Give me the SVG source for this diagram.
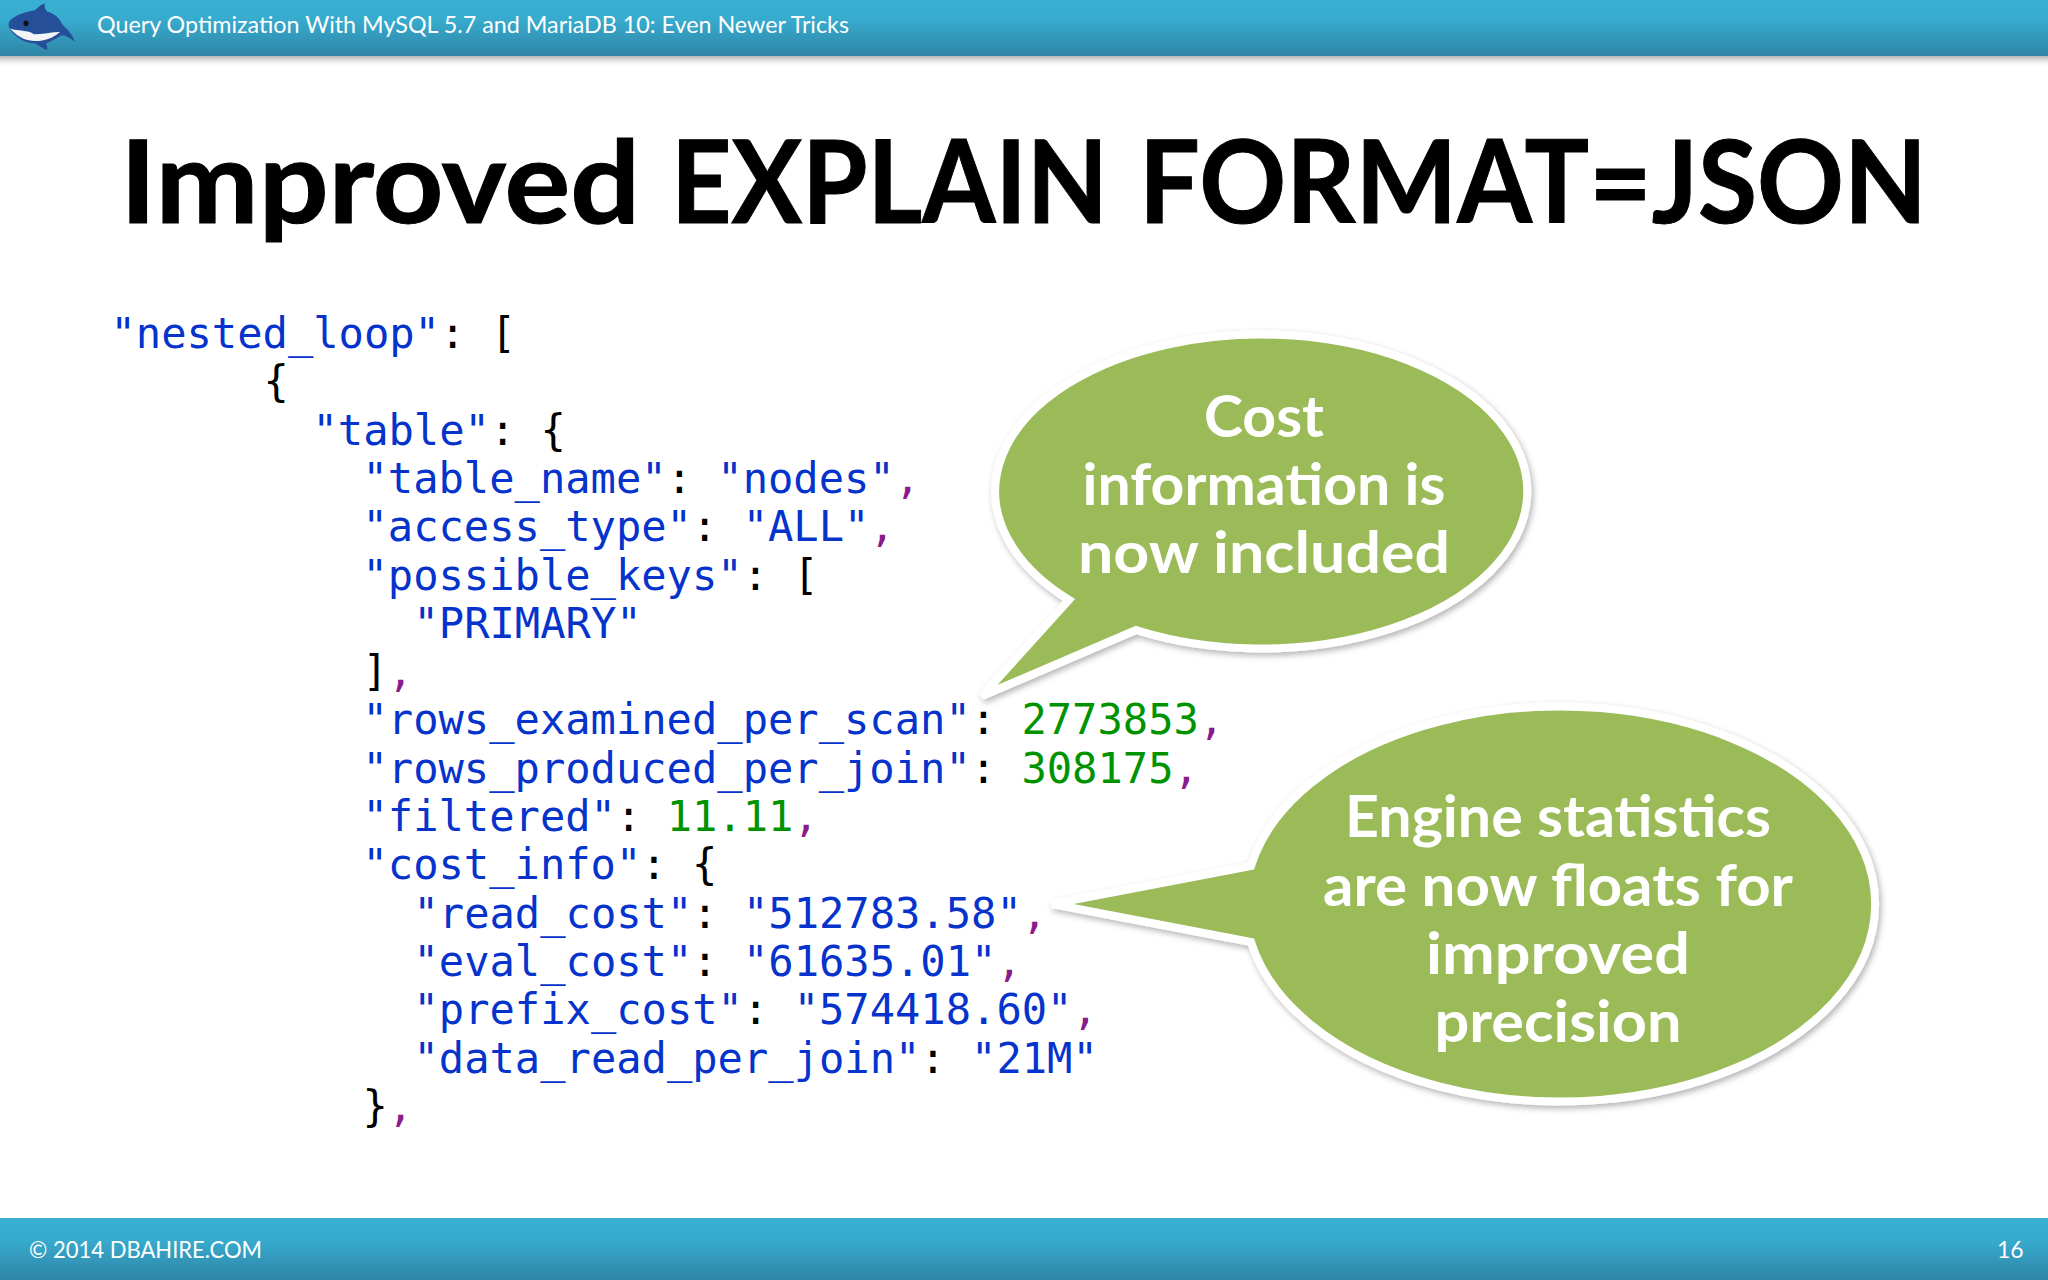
<svg xmlns="http://www.w3.org/2000/svg" width="2048" height="1280" viewBox="0 0 2048 1280">
<defs>
<linearGradient id="bar" x1="0" y1="0" x2="0" y2="1"><stop offset="0" stop-color="#38b0d3"/><stop offset="0.35" stop-color="#37abce"/><stop offset="1" stop-color="#2f85a6"/></linearGradient>
<linearGradient id="shade" x1="0" y1="0" x2="0" y2="1"><stop offset="0" stop-color="#8a8a8a" stop-opacity="0.75"/><stop offset="1" stop-color="#ffffff" stop-opacity="0"/></linearGradient>
<filter id="sh" x="-10%" y="-10%" width="120%" height="120%"><feDropShadow dx="2" dy="3" stdDeviation="3" flood-color="#000" flood-opacity="0.3"/></filter>
</defs>
<style>
.code{font-family:"DejaVu Sans Mono","Liberation Mono",monospace;font-size:42.1px;fill:#000}
.b{fill:#0533cc}.g{fill:#009300}.p{fill:#8b1a8b}
.bar{font-family:Lato,"Open Sans",sans-serif;fill:#fff}
.call{font-family:Lato,"Open Sans",sans-serif;font-weight:700;font-size:58px;fill:#fff;text-anchor:middle}
.bub{fill:#9bbb59;stroke:#fff;stroke-width:8;stroke-linejoin:miter;filter:url(#sh)}
</style>
<rect width="2048" height="1280" fill="#fff"/>
<g id="header">
<rect x="0" y="55" width="2048" height="13" fill="url(#shade)"/>
<rect x="0" y="0" width="2048" height="56" fill="url(#bar)"/>
<g id="logo" transform="scale(1 .57)">
<path d="M9 38 C14 26 28 20 35 18 C38 12 42 7 45 6 C44 11 45 16 47 20 C54 23 60 32 62 42 C66 50 72 58 75 73 C70 68 66 62 62 62 C56 68 50 74 46 76 C47 82 48 86 47 88 C42 84 38 80 35 76 C26 76 18 68 12 56 C9 50 8 44 9 38Z" fill="#254f98"/>
<path d="M10 50 C18 55 28 52 34 60 C42 60 52 56 60 56 C54 66 44 72 36 72 C24 72 16 62 10 50Z" fill="#f2f4f6"/>
<ellipse cx="26" cy="41" rx="2.500" ry="5" fill="#111"/>
</g>
<text class="bar" x="97" y="33" font-size="23" textLength="752" lengthAdjust="spacingAndGlyphs">Query Optimization With MySQL 5.7 and MariaDB 10: Even Newer Tricks</text>
</g>
<text id="title" y="223" font-family="Lato,'Open Sans',sans-serif" font-weight="700" font-size="114" fill="#000" stroke="#000" stroke-width="1"><tspan x="120" textLength="520" lengthAdjust="spacingAndGlyphs">Improved</tspan> <tspan x="671" textLength="437" lengthAdjust="spacingAndGlyphs">EXPLAIN</tspan> <tspan x="1139" textLength="788" lengthAdjust="spacingAndGlyphs">FORMAT=JSON</tspan></text>
<g id="code" xml:space="preserve">
<text class="code" x="110.500" y="348"><tspan class="b">"nested_loop"</tspan>: [</text>
<text class="code" x="263.500" y="396.300">{</text>
<text class="code" x="312.500" y="444.600"><tspan class="b">"table"</tspan>: {</text>
<text class="code" x="362.500" y="492.900"><tspan class="b">"table_name"</tspan>: <tspan class="b">"nodes"</tspan><tspan class="p">,</tspan></text>
<text class="code" x="362.500" y="541.200"><tspan class="b">"access_type"</tspan>: <tspan class="b">"ALL"</tspan><tspan class="p">,</tspan></text>
<text class="code" x="362.500" y="589.500"><tspan class="b">"possible_keys"</tspan>: [</text>
<text class="code" x="413.500" y="637.800"><tspan class="b">"PRIMARY"</tspan></text>
<text class="code" x="362.500" y="686.100">]<tspan class="p">,</tspan></text>
<text class="code" x="362.500" y="734.400"><tspan class="b">"rows_examined_per_scan"</tspan>: <tspan class="g">2773853</tspan><tspan class="p">,</tspan></text>
<text class="code" x="362.500" y="782.700"><tspan class="b">"rows_produced_per_join"</tspan>: <tspan class="g">308175</tspan><tspan class="p">,</tspan></text>
<text class="code" x="362.500" y="831"><tspan class="b">"filtered"</tspan>: <tspan class="g">11.11</tspan><tspan class="p">,</tspan></text>
<text class="code" x="362.500" y="879.300"><tspan class="b">"cost_info"</tspan>: {</text>
<text class="code" x="413.500" y="927.600"><tspan class="b">"read_cost"</tspan>: <tspan class="b">"512783.58"</tspan><tspan class="p">,</tspan></text>
<text class="code" x="413.500" y="975.900"><tspan class="b">"eval_cost"</tspan>: <tspan class="b">"61635.01"</tspan><tspan class="p">,</tspan></text>
<text class="code" x="413.500" y="1024.200"><tspan class="b">"prefix_cost"</tspan>: <tspan class="b">"574418.60"</tspan><tspan class="p">,</tspan></text>
<text class="code" x="413.500" y="1072.500"><tspan class="b">"data_read_per_join"</tspan>: <tspan class="b">"21M"</tspan></text>
<text class="code" x="362.500" y="1120.800">}<tspan class="p">,</tspan></text>
</g>
<g id="callout-cost">
<path class="bub" d="M1136 630 A266 157 0 1 0 1069 600 L982 696 Z"/>
<text class="call" x="1264" y="437" textLength="120" lengthAdjust="spacingAndGlyphs">Cost</text>
<text class="call" x="1264" y="505" textLength="363" lengthAdjust="spacingAndGlyphs">information is</text>
<text class="call" x="1264" y="573" textLength="372" lengthAdjust="spacingAndGlyphs">now included</text>
</g>
<g id="callout-engine">
<path class="bub" d="M1251 866 A315 197.500 0 1 1 1251 942 L1052 904 Z"/>
<text class="call" x="1558" y="837" textLength="426" lengthAdjust="spacingAndGlyphs">Engine statistics</text>
<text class="call" x="1558" y="906" textLength="470" lengthAdjust="spacingAndGlyphs">are now floats for</text>
<text class="call" x="1558" y="974" textLength="264" lengthAdjust="spacingAndGlyphs">improved</text>
<text class="call" x="1558" y="1042" textLength="247" lengthAdjust="spacingAndGlyphs">precision</text>
</g>
<g id="footer">
<rect x="0" y="1218" width="2048" height="62" fill="url(#bar)"/>
<text class="bar" x="29" y="1258" font-size="23" textLength="233" lengthAdjust="spacingAndGlyphs">© 2014 DBAHIRE.COM</text>
<text class="bar" x="1997" y="1258" font-size="23">16</text>
</g>
</svg>
